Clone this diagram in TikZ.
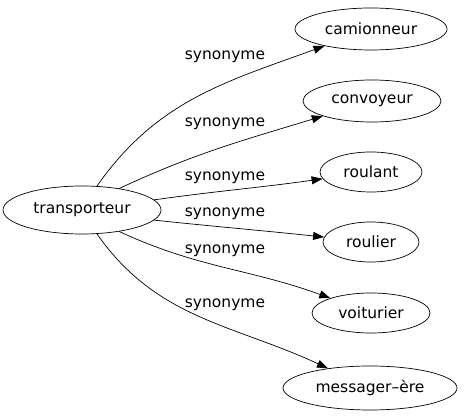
\documentclass[tikz,border=0pt]{standalone}
\usepackage{fontspec}
\setmainfont{DejaVu Sans}
\usepackage{tikz}
\usetikzlibrary{shapes.geometric,arrows.meta}

\tikzset{
  word/.style = {ellipse,
      draw = black,
      line width = 0.7pt,
      inner sep = 0pt,
      font = \fontsize{15.5}{18}\selectfont},
  rel/.style = {-{Triangle[length=11pt,width=8pt]},
      line width = 0.7pt,
      black},
  lbl/.style = {font = \fontsize{15.5}{18}\selectfont,
      inner sep = 0pt}
}

\begin{document}
\begin{tikzpicture}[x=1pt,y=1pt]
  \useasboundingbox (0,0) rectangle (465,419);
  % the word in the middle
  \node[word,
      minimum width = 158pt,
      minimum height = 48pt] (transp) at (82,209) {transporteur};

  % the synonyms on the right
  \node[word,
      minimum width = 152pt,
      minimum height = 42pt] (camion) at (371,390) {camionneur};
  \node[word,
      minimum width = 138pt,
      minimum height = 42pt] (convoy) at (372,318) {convoyeur};
  \node[word,
      minimum width = 102pt,
      minimum height = 40pt] (roulant) at (371,247) {roulant};
  \node[word,
      minimum width = 96pt,
      minimum height = 40pt] (roulier) at (371,177) {roulier};
  \node[word,
      minimum width = 118pt,
      minimum height = 40pt] (voit) at (371,106) {voiturier};
  \node[word,
      minimum width = 174pt,
      minimum height = 44pt] (mess) at (370,31) {messager–ère};

  % labels of the edges
  \node[lbl] (l1) at (225,362) {synonyme};
  \node[lbl] (l2) at (225,295) {synonyme};
  \node[lbl] (l3) at (225,241) {synonyme};
  \node[lbl] (l4) at (225,205) {synonyme};
  \node[lbl] (l5) at (225,168) {synonyme};
  \node[lbl] (l6) at (225,114) {synonyme};

  % the edges
  \draw[rel] (transp.58) to[out=55, in=200] (camion);
  \draw[rel] (transp.30) to[out=25, in=197] (convoy);
  \draw[rel] (transp.8) to[out=8, in=188] (roulant);
  \draw[rel] (transp.-8) to[out=-6, in=174] (roulier);
  \draw[rel] (transp.-30) to[out=-25, in=160] (voit);
  \draw[rel] (transp.-58) to[out=-55, in=155] (mess);
\end{tikzpicture}
\end{document}
